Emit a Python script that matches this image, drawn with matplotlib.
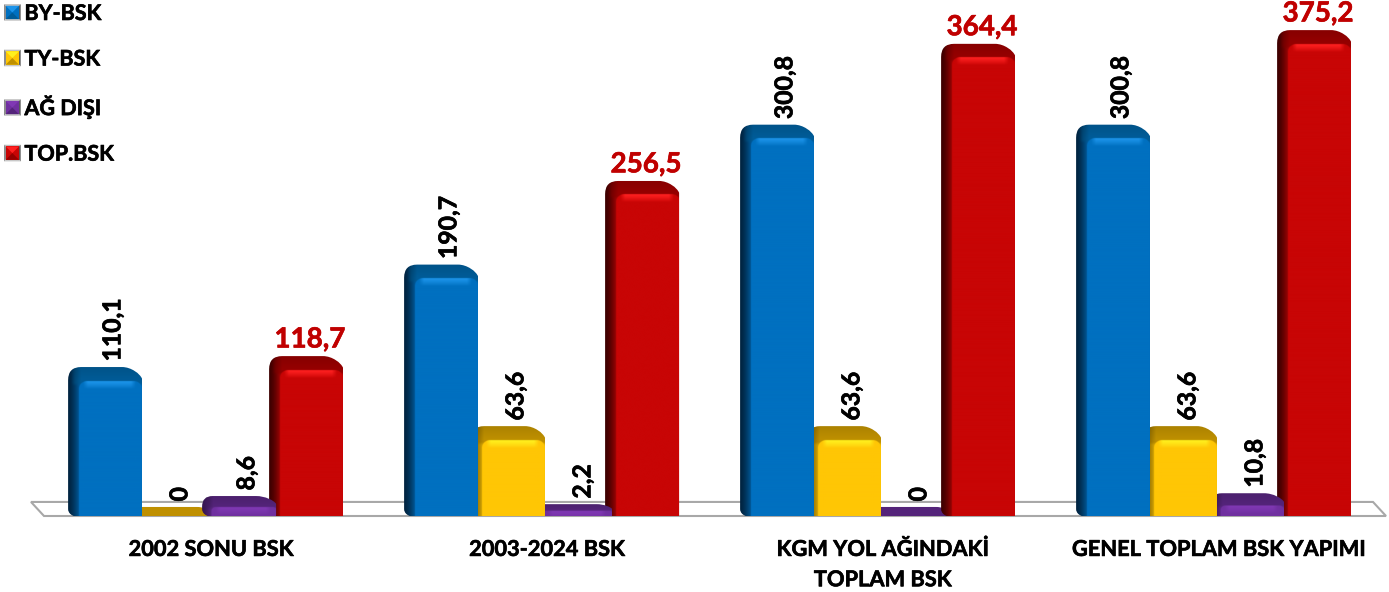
import numpy as np
import matplotlib
matplotlib.use("Agg")
import matplotlib.pyplot as plt
import matplotlib.patheffects as pe
from matplotlib.path import Path
from matplotlib.patches import PathPatch, Polygon
from matplotlib.legend_handler import HandlerBase
from matplotlib.lines import Line2D

categories = ["2002 SONU BSK", "2003-2024 BSK", "KGM YOL AĞINDAKİ\nTOPLAM BSK", "GENEL TOPLAM BSK YAPIMI"]
series_names = ["BY-BSK", "TY-BSK", "AĞ DIŞI", "TOP.BSK"]
by_bsk = [110.1, 190.7, 300.8, 300.8]
ty_bsk = [0, 63.6, 63.6, 63.6]
ag_disi = [8.6, 2.2, 0, 10.8]
top_bsk = [118.7, 256.5, 364.4, 375.2]
value_labels = [
    ["110,1", "190,7", "300,8", "300,8"],
    ["0", "63,6", "63,6", "63,6"],
    ["8,6", "2,2", "0", "10,8"],
    ["118,7", "256,5", "364,4", "375,2"],
]

# (main, top face, left shadow, highlight)
palettes = [
    ("#0070C0", "#005C98", "#00233F", "#1C94EA"),
    ("#FFC605", "#BF9000", "#7A5C00", "#FFF01E"),
    ("#7030A0", "#54247A", "#351650", "#8038B4"),
    ("#C80505", "#960000", "#3C0000", "#FF2020"),
]
FONT = "Lato"
BOLDER = [pe.withStroke(linewidth=0.45, foreground="black")]
BOLDER_RED = [pe.withStroke(linewidth=0.45, foreground="#C00000")]
W_PX, H_PX = 1389, 592
BASE_PX = 515          # bar foot
FLOOR_BOTTOM = 516
PX_PER_VALUE = 1.266
LIFT_PX = 10           # silhouette rise at value 0
GROUP_PX = 336.0
GROUP0_PX = 205.6
BAR_STEP = 67.0 / GROUP_PX
BAR_W_PX = 74.0


def rgb(c):
    return np.array(matplotlib.colors.to_rgb(c))


fig = plt.figure(figsize=(W_PX / 100, H_PX / 100), dpi=100, facecolor="white")
ax = fig.add_axes([0, (H_PX - FLOOR_BOTTOM) / H_PX, 1, FLOOR_BOTTOM / H_PX])
ax.patch.set_alpha(0)
for s in ax.spines.values():
    s.set_visible(False)

x_lo = -GROUP0_PX / GROUP_PX
x_hi = (W_PX - GROUP0_PX) / GROUP_PX
y_lo = -(LIFT_PX + (BASE_PX - FLOOR_BOTTOM)) / PX_PER_VALUE
y_hi = (BASE_PX - LIFT_PX) / PX_PER_VALUE


def px_x(dx):
    return dx / GROUP_PX


def px_y(dy):
    return dy / PX_PER_VALUE


foot = -LIFT_PX / PX_PER_VALUE
floor_x = [x_lo + 44 / GROUP_PX, x_lo + 1386 / GROUP_PX, x_lo + 1373 / GROUP_PX, x_lo + 31 / GROUP_PX]
floor_y = [y_lo, y_lo, y_lo + px_y(14), y_lo + px_y(14)]
ax.add_patch(Polygon(np.c_[floor_x, floor_y], closed=True, facecolor="white",
                     edgecolor="#A8A8A8", lw=1.5, zorder=0.5, clip_on=False))


def bar_image(H, W, pal):
    """Shaded face image for a bar of H x W pixels (top row first)."""
    main, top, left, hi = [rgb(c) for c in pal]
    ss = 3
    yy, xx = np.mgrid[0:int(H * ss), 0:int(W * ss)]
    yy = (yy + .5) / ss
    xx = (xx + .5) / ss
    depth = min(14.0, 0.52 * H)
    band = min(11.0, H * 0.45)
    r = min(8.0, H * 0.2)
    # front face: rounded rectangle with its top corners inside the bar
    qx = np.maximum(np.maximum(band + r - xx, xx - (W - r)), 0)
    qy = np.maximum(depth + r - yy, 0)
    front = np.clip(r - np.hypot(qx, qy) + .5, 0, 1)[..., None]

    # front colour with highlight strip
    t = np.clip((yy - depth) / 8.0, 0, 1)[..., None] ** 1.3
    hmask = (np.clip((xx - band - 4) / 5, 0, 1) * np.clip((W - 6 - xx) / 5, 0, 1))[..., None]
    hl = hi * (1 - t) + main * t
    front_col = main * (1 - hmask) + hl * hmask
    # surrounding colour: left side gradient and top face
    t = np.clip(xx / (band * 1.2), 0, 1)[..., None] ** 1.5
    side = left * (1 - t) + main * 0.92 * t
    tv = np.clip(yy / max(depth, 1), 0, 1)[..., None]
    top_col = top * (0.9 + 0.1 * tv) * (0.55 + 0.45 * np.clip(xx / (band * 1.2), 0, 1)[..., None])
    w_top = np.clip((depth + r * 0.6 - yy) / 3.0, 0, 1)[..., None]
    w_top = w_top * np.clip((xx - band * 0.3) / 4, 0, 1)[..., None]
    back = side * (1 - w_top) + top_col * w_top
    img = back * (1 - front) + front_col * front
    return np.clip(img, 0, 1)


def silhouette(x0, x1, y0, y1):
    """Rounded outline with a softened upper right corner, in data coords."""
    H_p = (y1 - y0) * PX_PER_VALUE
    r = min(13.0, H_p * 0.5)
    rx, ry = px_x(r), px_y(r)
    cx, cy = px_x(min(20.0, H_p * 1.2)), px_y(min(19.0, H_p * 0.6))
    bx, by = px_x(min(12.0, H_p * 0.7)), px_y(min(8.0, H_p * 0.4))
    verts = [
        (x0 + rx, y1), (x1 - cx, y1),
        (x1 - cx * 0.55, y1), (x1 - cx * 0.1, y1 - cy * 0.35), (x1, y1 - cy * 0.62),
        (x1, y1 - cy * 0.8), (x1, y1 - cy),
        (x1, y0 + px_y(2)), (x1, y0), (x1 - px_x(2), y0),
        (x0 + bx, y0), (x0 + bx * 0.3, y0), (x0, y0 + by * 0.5), (x0, y0 + by),
        (x0, y1 - ry), (x0, y1), (x0 + rx, y1), (x0 + rx, y1),
    ]
    codes = [Path.MOVETO, Path.LINETO,
             Path.CURVE4, Path.CURVE4, Path.CURVE4,
             Path.CURVE3, Path.CURVE3,
             Path.LINETO, Path.CURVE3, Path.CURVE3,
             Path.LINETO, Path.CURVE4, Path.CURVE4, Path.CURVE4,
             Path.LINETO, Path.CURVE3, Path.CURVE3, Path.CLOSEPOLY]
    return Path(verts, codes)


all_series = [by_bsk, ty_bsk, ag_disi, top_bsk]
z_base = [6, 5, 4, 3]
bar_w = BAR_W_PX / GROUP_PX
for s, vals in enumerate(all_series):
    for g, v in enumerate(vals):
        cx = g + (s - 1.5) * BAR_STEP
        x0, x1 = cx - bar_w / 2, cx + bar_w / 2
        H = v * PX_PER_VALUE + LIFT_PX
        z = z_base[s] if v > 0 else 2 + s * 0.1
        img = bar_image(H, BAR_W_PX, palettes[s])
        if v < 1:
            img[:] = rgb(palettes[s][1])
        im = ax.imshow(img, extent=[x0, x1, foot, v], aspect="auto",
                       interpolation="antialiased", zorder=z)
        clip = PathPatch(silhouette(x0, x1, foot, v), transform=ax.transData,
                         facecolor="none", edgecolor="none")
        ax.add_patch(clip)
        im.set_clip_path(clip)
        if s == 3:
            ax.annotate(value_labels[s][g], (cx, v), xytext=(2.8, 2.6), textcoords="offset points",
                        ha="center", va="bottom", color="#C00000", fontsize=20,
                        fontweight="bold", family=FONT, zorder=10, path_effects=BOLDER_RED,
                        annotation_clip=False)
        else:
            ax.annotate(value_labels[s][g], (cx, v), xytext=(5.6, 4.0), textcoords="offset points",
                        ha="center", va="bottom", rotation=90, color="black", fontsize=17.8,
                        fontweight="bold", family=FONT, zorder=10, path_effects=BOLDER)

ax.set_xlim(x_lo, x_hi)
ax.set_ylim(y_lo, y_hi)
ax.set_yticks([])
ax.set_xticks(np.arange(4) + 5 / GROUP_PX)
ax.set_xticklabels(categories, fontsize=15.7, fontweight="bold", family=FONT, linespacing=1.55,
                   path_effects=BOLDER)
ax.tick_params(axis="x", length=0, pad=16.5)


class PyramidHandler(HandlerBase):
    def __init__(self, pal):
        super().__init__()
        self.pal = pal

    def create_artists(self, legend, orig, xd, yd, w, h, fs, trans):
        s = 12.0
        x0 = -xd + 0.0
        y0 = -yd + (h - s) / 2
        x1, y1 = x0 + s, y0 + s
        ix0, ix1, iy0, iy1 = x0 + 3, x1 - 3, y0 + 3, y1 - 3
        main, top, left, hi = self.pal
        faces = [
            ([(x0, y1), (x1, y1), (ix1, iy1), (ix0, iy1)], "#BDBDBD"),
            ([(x0, y0), (x0, y1), (ix0, iy1), (ix0, iy0)], "#8C8C8C"),
            ([(x1, y0), (x1, y1), (ix1, iy1), (ix1, iy0)], "#5A5A5A"),
            ([(x0, y0), (x1, y0), (ix1, iy0), (ix0, iy0)], "#C9C9C9"),
            ([(x0 + 1.2, y0 + 1.2), (x1 - 1.2, y0 + 1.2), (x1 - 1.2, y1 - 1.2), (x0 + 1.2, y1 - 1.2)], main),
            ([(x0 + 1.2, y1 - 1.2), (x1 - 1.2, y1 - 1.2), (x0 + s / 2, y0 + s / 2)], hi),
            ([(x0 + 1.2, y0 + 1.2), (x1 - 1.2, y0 + 1.2), (x0 + s / 2, y0 + s / 2)], top),
        ]
        return [Polygon(pts, closed=True, facecolor=col, edgecolor="none", transform=trans)
                for pts, col in faces]


handles = [Line2D([], [], label=n) for n in series_names]
hmap = {h: PyramidHandler(p) for h, p in zip(handles, palettes)}
leg = ax.legend(handles=handles, handler_map=hmap, loc="upper left",
                bbox_to_anchor=(4 / W_PX, 1 - 3 / FLOOR_BOTTOM), bbox_transform=ax.transAxes,
                frameon=False, prop={"family": FONT, "weight": "bold", "size": 15.5},
                handlelength=0.8, handletextpad=0.15, labelspacing=1.14, borderpad=0, borderaxespad=0)
for t in leg.get_texts():
    t.set_path_effects(BOLDER)
leg.set_zorder(20)

fig.savefig("out.png", dpi=100, facecolor="white")
